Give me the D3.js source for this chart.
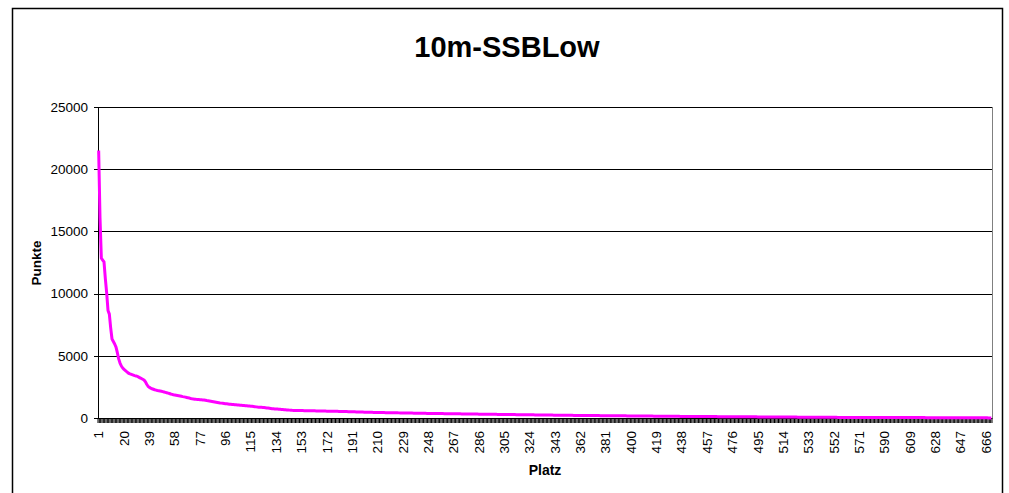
<!DOCTYPE html>
<html>
<head>
<meta charset="utf-8">
<script src="https://cdn.jsdelivr.net/npm/d3@7"></script>
<style>
  html, body { margin: 0; padding: 0; background: #fff; }
  svg { display: block; font-family: "Liberation Sans", Arial, sans-serif; }
</style>
</head>
<body>
<svg id="chart" width="1009" height="493"></svg>
<script>
// ---- data ----
const title = "10m-SSBLow";
const xTitle = "Platz";
const yTitle = "Punkte";
const yTicks = [0, 5000, 10000, 15000, 20000, 25000];
const xTickLabels = [1, 20, 39, 58, 77, 96, 115, 134, 153, 172, 191, 210, 229, 248, 267, 286, 305, 324, 343, 362, 381, 400, 419, 438, 457, 476, 495, 514, 533, 552, 571, 590, 609, 628, 647, 666];
const punkte = [
  21500, 16100, 12850, 12700, 12550, 11200, 10050, 8650, 8350, 7250,
  6350, 6150, 5950, 5700, 5250, 4750, 4420, 4180, 4020, 3910,
  3820, 3720, 3630, 3570, 3530, 3490, 3450, 3410, 3380, 3340,
  3290, 3230, 3170, 3110, 3050, 2920, 2710, 2550, 2460, 2400,
  2350, 2310, 2270, 2240, 2210, 2190, 2170, 2150, 2120, 2090,
  2060, 2030, 2000, 1970, 1930, 1900, 1870, 1850, 1830, 1810,
  1790, 1770, 1745, 1720, 1700, 1680, 1650, 1620, 1600, 1570,
  1545, 1530, 1515, 1500, 1490, 1480, 1470, 1460, 1450, 1440,
  1420, 1400, 1385, 1370, 1350, 1330, 1310, 1290, 1270, 1250,
  1230, 1210, 1195, 1180, 1165, 1150, 1140, 1125, 1110, 1100,
  1090, 1080, 1070, 1060, 1050, 1040, 1030, 1020, 1010, 1000,
  990, 980, 970, 960, 950, 940, 925, 910, 895, 880,
  870, 860, 855, 850, 840, 825, 810, 795, 780, 765,
  752, 740, 730, 722, 714, 705, 696, 687, 678, 669,
  660, 651, 642, 633, 624, 615, 610, 607, 605, 603,
  600, 598, 596, 593, 591, 589, 587, 584, 582, 580,
  577, 575, 573, 571, 568, 566, 564, 561, 559, 557,
  555, 552, 550, 548, 546, 543, 541, 539, 536, 534,
  532, 529, 526, 523, 520, 517, 514, 510, 507, 504,
  501, 498, 494, 491, 488, 485, 482, 478, 475, 472,
  469, 466, 462, 459, 456, 453, 450, 448, 446, 444,
  442, 440, 438, 436, 434, 432, 430, 428, 426, 424,
  422, 420, 418, 416, 414, 412, 410, 408, 406, 404,
  402, 400, 398, 396, 394, 392, 390, 388, 386, 384,
  382, 380, 378, 376, 374, 372, 370, 368, 367, 365,
  364, 362, 361, 359, 358, 356, 355, 353, 352, 350,
  349, 347, 346, 344, 343, 341, 340, 338, 337, 335,
  334, 332, 331, 329, 328, 326, 325, 323, 322, 320,
  319, 317, 316, 314, 313, 311, 310, 308, 307, 305,
  304, 302, 301, 299, 298, 296, 295, 293, 292, 290,
  289, 287, 286, 284, 283, 282, 280, 279, 277, 276,
  275, 273, 272, 270, 269, 268, 266, 265, 263, 262,
  261, 259, 258, 256, 255, 254, 252, 251, 249, 248,
  247, 245, 244, 242, 241, 240, 238, 237, 235, 234,
  233, 231, 230, 228, 227, 226, 224, 223, 221, 220,
  219, 217, 216, 214, 213, 212, 210, 209, 208, 207,
  206, 205, 204, 203, 202, 201, 200, 199, 198, 197,
  196, 195, 194, 193, 192, 191, 190, 189, 188, 187,
  186, 185, 184, 183, 182, 181, 180, 179, 178, 177,
  176, 175, 174, 173, 172, 171, 170, 169, 168, 167,
  166, 165, 164, 163, 162, 161, 160, 159, 158, 157,
  156, 155, 154, 153, 152, 151, 150, 149, 148, 147,
  146, 145, 144, 143, 142, 141, 140, 139, 138, 137,
  136, 135, 134, 133, 132, 131, 130, 129, 128, 127,
  126, 126, 125, 124, 124, 123, 122, 122, 121, 120,
  120, 119, 118, 118, 117, 116, 116, 115, 114, 114,
  113, 112, 112, 111, 110, 110, 109, 108, 108, 107,
  106, 106, 105, 104, 104, 103, 102, 102, 101, 100,
  100, 99, 98, 98, 97, 96, 96, 95, 94, 94,
  93, 92, 92, 91, 90, 90, 89, 88, 88, 87,
  86, 86, 85, 84, 84, 83, 82, 82, 81, 80,
  80, 79, 78, 78, 77, 76, 76, 75, 74, 74,
  73, 72, 72, 71, 70, 70, 69, 68, 68, 67,
  66, 66, 65, 64, 64, 63, 62, 62, 61, 60,
  60, 59, 58, 58, 57, 56, 56, 55, 54, 54,
  53, 52, 52, 51, 50, 50, 50, 50, 50, 50,
  50, 50, 50, 50, 49, 49, 48, 48, 48, 47,
  47, 47, 46, 46, 46, 45, 45, 45, 44, 44,
  44, 43, 43, 43, 42, 42, 42, 41, 41, 41,
  40, 40, 40, 39, 39, 39, 38, 38, 38, 37,
  37, 37, 36, 36, 36, 35, 35, 35, 34, 34,
  34, 33, 33, 33, 32, 32, 32, 31, 31, 31,
  30, 30, 30, 29, 29, 29, 28, 28, 28, 27,
  27, 27, 26, 26, 26, 25, 25, 25, 24, 24,
  24, 23, 23, 22, 22, 21, 21, 20, 20, 19,
  19, 18, 18, 17, 17, 16, 16, 15, 15, 14,
  14, 13, 13, 12, 12, 11, 11, 10, 10, 10
];
const platz = punkte.map((d, i) => i + 1);

// ---- layout ----
const svg = d3.select("#chart");
const plot = { left: 98, right: 992, top: 107, bottom: 418 };

const x = d3.scaleBand().domain(platz).range([plot.left, plot.right]).paddingInner(0).paddingOuter(0);
const y = d3.scaleLinear().domain([0, 25000]).range([plot.bottom, plot.top]);

// outer chart border
svg.append("rect")
  .attr("x", 12.5).attr("y", 8.5).attr("width", 990).attr("height", 520)
  .attr("fill", "#fff").attr("stroke", "#000").attr("stroke-width", 1.5);

// title
svg.append("text")
  .attr("x", 507).attr("y", 57)
  .attr("text-anchor", "middle")
  .attr("font-size", 29).attr("font-weight", "bold")
  .text(title);

// plot area border (gray)
svg.append("rect")
  .attr("x", plot.left).attr("y", plot.top)
  .attr("width", plot.right - plot.left).attr("height", plot.bottom - plot.top)
  .attr("fill", "#fff").attr("stroke", "#808080").attr("stroke-width", 1)
  .attr("shape-rendering", "crispEdges");

// y axis with gridlines
const yAxis = d3.axisLeft(y).tickValues(yTicks).tickFormat(d3.format("d")).tickSize(4).tickPadding(6);
const gy = svg.append("g").attr("transform", `translate(${plot.left},0)`).call(yAxis);
gy.select(".domain").attr("stroke", "#000").attr("shape-rendering", "crispEdges");
gy.selectAll(".tick line").attr("stroke", "#000").attr("shape-rendering", "crispEdges");
gy.selectAll(".tick text").attr("font-size", 13.5).attr("font-family", "Liberation Sans, Arial, sans-serif").attr("fill", "#000");

const grid = d3.axisLeft(y).tickValues(yTicks.filter(v => v > 0)).tickSize(-(plot.right - plot.left)).tickFormat("");
const gg = svg.append("g").attr("transform", `translate(${plot.left},0)`).call(grid);
gg.select(".domain").remove();
gg.selectAll(".tick line").attr("stroke", "#000").attr("shape-rendering", "crispEdges");

// x axis: tick marks at category boundaries
const gx = svg.append("g");
const bounds = platz.map(c => x(c)).concat([x(platz[platz.length - 1]) + x.bandwidth()]);
gx.selectAll("line.tk").data(bounds).join("line")
  .attr("class", "tk")
  .attr("x1", d => d).attr("x2", d => d)
  .attr("y1", plot.bottom).attr("y2", plot.bottom + 5)
  .attr("stroke", "#000").attr("stroke-width", 1);
gx.append("line")
  .attr("x1", plot.left).attr("x2", plot.right)
  .attr("y1", plot.bottom + 0.5).attr("y2", plot.bottom + 0.5)
  .attr("stroke", "#000");

// x tick labels
gx.selectAll("text.xl").data(xTickLabels).join("text")
  .attr("class", "xl")
  .attr("transform", d => `translate(${x(d) + x.bandwidth() / 2 + 4.7},431) rotate(-90)`)
  .attr("text-anchor", "end")
  .attr("font-size", 13.5)
  .text(d => d);

// axis titles
svg.append("text")
  .attr("x", 545).attr("y", 475)
  .attr("text-anchor", "middle")
  .attr("font-size", 14).attr("font-weight", "bold")
  .text(xTitle);
svg.append("text")
  .attr("transform", "translate(41,263) rotate(-90)")
  .attr("text-anchor", "middle")
  .attr("font-size", 13.5).attr("font-weight", "bold")
  .text(yTitle);

// series line
const line = d3.line()
  .x((d, i) => x(platz[i]) + x.bandwidth() / 2)
  .y(d => y(d));
svg.append("path")
  .datum(punkte)
  .attr("d", line)
  .attr("fill", "none")
  .attr("stroke", "#FF00FF")
  .attr("stroke-width", 3)
  .attr("stroke-linejoin", "round");
</script>
</body>
</html>
